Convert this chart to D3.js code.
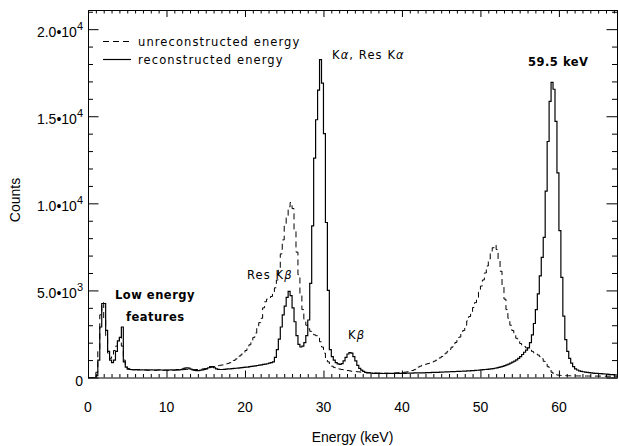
<!DOCTYPE html>
<html>
<head>
<meta charset="utf-8">
<script src="https://cdn.jsdelivr.net/npm/d3@7"></script>
<style>
  html, body { margin: 0; padding: 0; background: #fff; }
  svg { display: block; }
</style>
</head>
<body>
<svg id="chart" width="619" height="446"></svg>
<script>
// Histogram channel width (keV); channel i covers [i*binWidth, (i+1)*binWidth)
const binWidth = 0.25;

// Counts per channel, energy reconstructed (one row = 2 keV)
const reconstructed = [
  0, 0, 0, 0, 100, 1000, 2900, 4250,
  4250, 2700, 1500, 1000, 850, 1000, 1500, 2100,
  2300, 2900, 900, 600, 480, 460, 450, 440,
  450, 440, 430, 440, 430, 430, 420, 430,
  440, 430, 420, 430, 440, 430, 420, 430,
  420, 430, 440, 420, 430, 450, 440, 450,
  500, 540, 560, 540, 480, 430, 410, 400,
  400, 420, 440, 460, 500, 560, 620, 620,
  560, 500, 470, 460, 460, 470, 480, 490,
  500, 510, 520, 530, 540, 550, 570, 580,
  590, 600, 620, 640, 650, 670, 690, 710,
  730, 750, 770, 790, 820, 850, 900, 1150,
  1600, 2200, 2900, 3600, 4100, 4600, 4950, 4700,
  4000, 3200, 2400, 1900, 1750, 1800, 2000, 2400,
  3300, 5400, 8700, 12600, 14800, 16500, 18250, 16900,
  14000, 8900, 5000, 1600, 1200, 1000, 850, 780,
  750, 800, 950, 1150, 1350, 1430, 1400, 1200,
  950, 700, 520, 420, 350, 300, 270, 260,
  250, 240, 240, 230, 240, 240, 230, 240,
  240, 230, 240, 240, 240, 250, 240, 240,
  250, 240, 250, 250, 250, 250, 260, 260,
  260, 265, 270, 270, 275, 280, 285, 290,
  290, 295, 300, 305, 310, 315, 320, 325,
  330, 335, 340, 345, 350, 355, 360, 365,
  370, 380, 385, 390, 400, 405, 415, 425,
  440, 450, 460, 470, 480, 495, 510, 530,
  550, 580, 610, 640, 680, 720, 770, 820,
  880, 940, 1010, 1100, 1200, 1320, 1450, 1570,
  1700, 2000, 2450, 3100, 3900, 4800, 5830, 6900,
  8050, 10700, 13550, 15850, 16950, 16550, 14700, 11750,
  8430, 5750, 3520, 2170, 1500, 1100, 820, 620,
  500, 430, 380, 350, 330, 310, 290, 275,
  260, 250, 240, 235, 230, 220, 210, 200,
  190, 180, 170, 160, 150, 145
];

// Counts per channel, energy not reconstructed (one row = 2 keV)
const unreconstructed = [
  0, 0, 0, 0, 300, 1600, 3600, 4300,
  3300, 2400, 1400, 1100, 1300, 1550, 1800, 2100,
  2300, 1800, 1000, 650, 520, 480, 470, 460,
  460, 450, 450, 440, 440, 440, 430, 430,
  430, 430, 420, 430, 430, 420, 420, 420,
  420, 420, 420, 430, 430, 430, 440, 440,
  450, 460, 470, 470, 460, 450, 450, 460,
  470, 480, 490, 510, 520, 550, 570, 600,
  620, 650, 680, 700, 720, 750, 780, 810,
  850, 900, 980, 1060, 1150, 1240, 1340, 1440,
  1550, 1700, 1880, 2080, 2300, 2550, 2850, 3150,
  3400, 4000, 4350, 4500, 4550, 4650, 4850, 5150,
  5600, 6300, 7100, 7900, 8700, 9300, 9800, 10050,
  9700, 8500, 7200, 5900, 4700, 3900, 3350, 3000,
  2800, 2650, 2550, 2450, 2400, 2300, 2050, 1750,
  1400, 1100, 900, 750, 650, 580, 530, 500,
  480, 460, 440, 420, 400, 380, 360, 350,
  340, 330, 320, 300, 290, 285, 280, 275,
  270, 265, 260, 255, 250, 245, 245, 240,
  240, 240, 245, 250, 255, 260, 270, 280,
  290, 305, 320, 340, 360, 400, 450, 520,
  600, 650, 700, 740, 770, 800, 840, 880,
  930, 990, 1060, 1130, 1210, 1300, 1400, 1500,
  1620, 1740, 1870, 2010, 2160, 2320, 2500, 2700,
  3000, 3250, 3500, 3760, 4020, 4300, 4600, 4900,
  5250, 5600, 6000, 6400, 6800, 7150, 7450, 7600,
  7350, 6800, 6100, 5300, 4500, 3900, 3400, 3000,
  2700, 2450, 2250, 2080, 1950, 1860, 1780, 1700,
  1640, 1580, 1500, 1420, 1360, 1290, 1200, 1080,
  930, 780, 620, 450, 300, 200, 160, 140,
  125, 115, 110, 105, 100, 100, 95, 95,
  90, 90, 90, 90, 85, 85, 85, 85,
  80, 80, 80, 80, 80, 80, 75, 75,
  75, 75, 75, 75, 70, 70
];

// Axis ticks and labels
const xTicks = [0, 10, 20, 30, 40, 50, 60];
const xTickLabels = ["0", "10", "20", "30", "40", "50", "60"];
const yTicks = [0, 5000, 10000, 15000, 20000];
const yTickMantissa = ["0", "5.0", "1.0", "1.5", "2.0"];
const yTickExponent = ["", "3", "4", "4", "4"];

// Legend entries and peak annotations
const legendItems = [
  { label: "unreconstructed energy", dash: "6,4" },
  { label: "reconstructed energy", dash: null }
];

const svg = d3.select("#chart");
const plot = { left: 88, right: 617, top: 10, bottom: 377.5 };

const x = d3.scaleLinear().domain([0, 67.4]).range([plot.left, plot.right]);
const y = d3.scaleLinear().domain([0, 21100]).range([plot.bottom, plot.top]);

const axisFont = "'Liberation Sans', Arial, Helvetica, sans-serif";
const noteFont = "'DejaVu Sans', sans-serif";

// clip for the spectra
svg.append("defs").append("clipPath").attr("id", "plotClip")
  .append("rect")
  .attr("x", plot.left).attr("y", plot.top)
  .attr("width", plot.right - plot.left).attr("height", plot.bottom - plot.top);

// histogram outlines
function histPoints(counts) {
  const pts = counts.map((c, i) => [i * binWidth, c]);
  pts.push([counts.length * binWidth, counts[counts.length - 1]]);
  return pts;
}
const stepLine = d3.line()
  .x(d => x(d[0]))
  .y(d => y(d[1]))
  .curve(d3.curveStepAfter);

const spectra = svg.append("g").attr("clip-path", "url(#plotClip)");
spectra.append("path")
  .attr("d", stepLine(histPoints(unreconstructed)))
  .attr("fill", "none").attr("stroke", "#000")
  .attr("stroke-width", 1).attr("stroke-dasharray", "6,4");
spectra.append("path")
  .attr("d", stepLine(histPoints(reconstructed)))
  .attr("fill", "none").attr("stroke", "#000")
  .attr("stroke-width", 1.2);

// axes: ticks pointing inward on all four sides
const xMinor = d3.range(0, 68, 1).filter(v => v % 10 !== 0);
const yMinor = d3.range(0, 21001, 1000).filter(v => v % 5000 !== 0);
const xMajorLen = 7, xMinorLen = 3.5, yMajorLen = 10.5, yMinorLen = 5;

function styleAxis(g) {
  g.select(".domain").remove();
  g.selectAll("line").attr("stroke", "#000").attr("stroke-width", 1);
  g.selectAll("text").remove();
}

svg.append("g").attr("transform", `translate(0,${plot.bottom})`)
  .call(d3.axisBottom(x).tickValues(xTicks).tickSize(-xMajorLen)).call(styleAxis);
svg.append("g").attr("transform", `translate(0,${plot.bottom})`)
  .call(d3.axisBottom(x).tickValues(xMinor).tickSize(-xMinorLen)).call(styleAxis);
svg.append("g").attr("transform", `translate(0,${plot.top})`)
  .call(d3.axisTop(x).tickValues(xTicks).tickSize(-xMajorLen)).call(styleAxis);
svg.append("g").attr("transform", `translate(0,${plot.top})`)
  .call(d3.axisTop(x).tickValues(xMinor).tickSize(-xMinorLen)).call(styleAxis);

svg.append("g").attr("transform", `translate(${plot.left},0)`)
  .call(d3.axisLeft(y).tickValues(yTicks).tickSize(-yMajorLen)).call(styleAxis);
svg.append("g").attr("transform", `translate(${plot.left},0)`)
  .call(d3.axisLeft(y).tickValues(yMinor).tickSize(-yMinorLen)).call(styleAxis);
svg.append("g").attr("transform", `translate(${plot.right},0)`)
  .call(d3.axisRight(y).tickValues(yTicks).tickSize(-yMajorLen)).call(styleAxis);
svg.append("g").attr("transform", `translate(${plot.right},0)`)
  .call(d3.axisRight(y).tickValues(yMinor).tickSize(-yMinorLen)).call(styleAxis);

// frame
svg.append("rect")
  .attr("x", plot.left + 0.5).attr("y", plot.top + 0.5)
  .attr("width", plot.right - plot.left).attr("height", plot.bottom - plot.top)
  .attr("fill", "none").attr("stroke", "#000").attr("stroke-width", 1);

// tick labels
svg.append("g").selectAll("text").data(xTicks).join("text")
  .attr("x", d => x(d)).attr("y", 412)
  .attr("text-anchor", "middle")
  .attr("font-family", axisFont).attr("font-size", 14).attr("fill", "#000")
  .text((d, i) => xTickLabels[i]);

const yLab = svg.append("g").selectAll("text").data(yTicks).join("text")
  .attr("x", plot.left - 5).attr("y", d => y(d) + 8)
  .attr("text-anchor", "end")
  .attr("font-family", axisFont).attr("font-size", 14).attr("fill", "#000");
yLab.append("tspan").text((d, i) => yTickMantissa[i] + (yTickExponent[i] ? "\u202210" : ""));
yLab.filter((d, i) => yTickExponent[i] !== "")
  .append("tspan").attr("dy", -7).attr("font-size", 11)
  .text(d => yTickExponent[yTicks.indexOf(d)]);

// axis titles
svg.append("text")
  .attr("x", (plot.left + plot.right) / 2).attr("y", 442)
  .attr("text-anchor", "middle")
  .attr("font-family", axisFont).attr("font-size", 14).attr("fill", "#000")
  .text("Energy (keV)");
svg.append("text")
  .attr("transform", "translate(20,200) rotate(-90)")
  .attr("text-anchor", "middle")
  .attr("font-family", axisFont).attr("font-size", 14).attr("fill", "#000")
  .text("Counts");

// legend
const legend = svg.append("g");
legendItems.forEach((item, i) => {
  const ly = 41.5 + i * 18;
  legend.append("line")
    .attr("x1", 103).attr("x2", 131).attr("y1", ly).attr("y2", ly)
    .attr("stroke", "#000").attr("stroke-width", item.dash ? 1 : 1.2)
    .attr("stroke-dasharray", item.dash);
  legend.append("text")
    .attr("x", 138).attr("y", ly + 4.5)
    .attr("font-family", noteFont).attr("font-size", 11.5)
    .attr("letter-spacing", 1.1).attr("fill", "#000")
    .text(item.label);
});

// peak annotations
function note(xPos, yPos, parts, bold) {
  const t = svg.append("text")
    .attr("x", xPos).attr("y", yPos)
    .attr("font-family", noteFont).attr("font-size", 11.5)
    .attr("font-weight", bold ? "bold" : "normal")
    .attr("letter-spacing", bold ? 0.5 : 1.1).attr("fill", "#000");
  parts.forEach(p => {
    t.append("tspan").attr("font-style", p.greek ? "italic" : "normal").text(p.s);
  });
}
note(332, 59, [{ s: "K" }, { s: "\u03b1", greek: true }, { s: ", Res K" }, { s: "\u03b1", greek: true }], false);
note(528, 66, [{ s: "59.5 keV" }], true);
note(247, 279, [{ s: "Res K" }, { s: "\u03b2", greek: true }], false);
note(348, 339, [{ s: "K" }, { s: "\u03b2", greek: true }], false);
note(115, 299, [{ s: "Low energy" }], true);
note(126, 321, [{ s: "features" }], true);
</script>
</body>
</html>
